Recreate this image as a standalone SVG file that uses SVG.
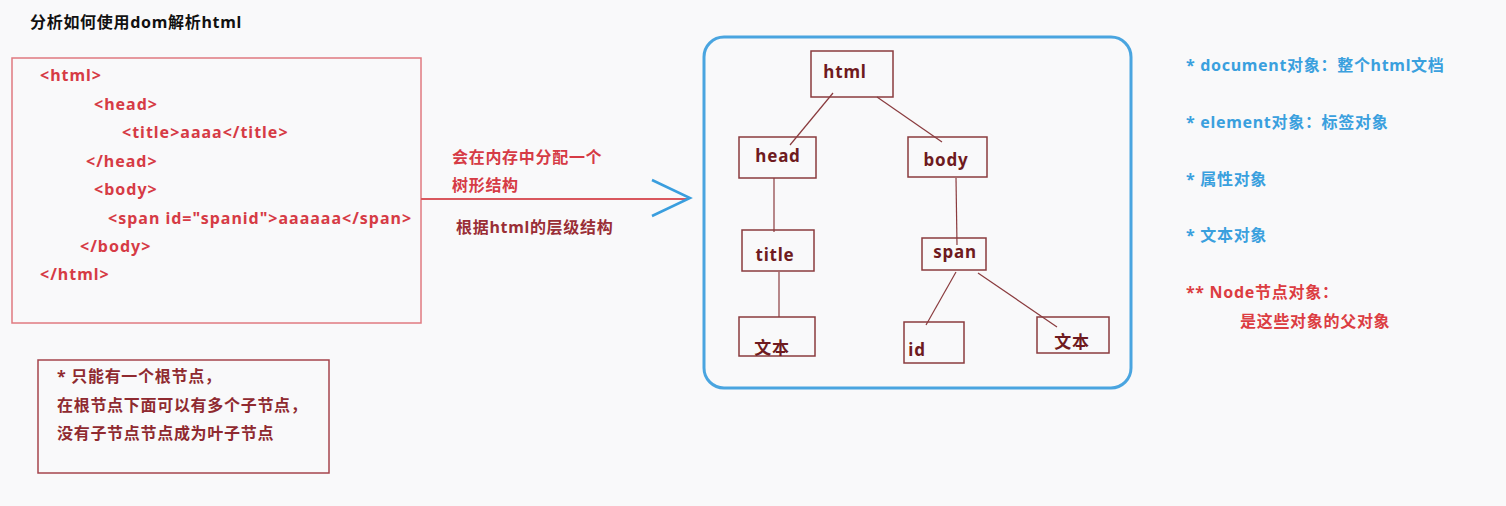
<svg xmlns="http://www.w3.org/2000/svg" width="1506" height="506" viewBox="0 0 1506 506">
<style>
text{font-family:"Noto Sans","Noto Sans CJK SC",sans-serif;font-weight:bold;font-size:16px;letter-spacing:0.7px}
.code{fill:#d63b45;letter-spacing:1px}
.note{fill:#d63b45}
.dark{fill:#8f2a30}
.blue{fill:#3aa0de}
.red{fill:#dc3d42}
.nbox{fill:none;stroke:#8a3b3e;stroke-width:1.5}
.nlabel{fill:#6e1a20;font-size:17px;letter-spacing:0.8px;text-anchor:middle}
.conn{stroke:#8a3b3e;stroke-width:1.2;fill:none}
</style>
<rect width="1506" height="506" fill="#f9f9fa"/>
<text x="30" y="28" style="fill:#111">分析如何使用dom解析html</text>

<g id="source">
<rect x="12" y="58" width="409" height="265" fill="none" stroke="#e07a80" stroke-width="1.5"/>
<text class="code" x="40" y="81">&lt;html&gt;</text>
<text class="code" x="94" y="110">&lt;head&gt;</text>
<text class="code" x="122" y="138">&lt;title&gt;aaaa&lt;/title&gt;</text>
<text class="code" x="86" y="167">&lt;/head&gt;</text>
<text class="code" x="94" y="195">&lt;body&gt;</text>
<text class="code" x="108" y="224">&lt;span id="spanid"&gt;aaaaaa&lt;/span&gt;</text>
<text class="code" x="80" y="252">&lt;/body&gt;</text>
<text class="code" x="40" y="280">&lt;/html&gt;</text>
</g>

<g id="note">
<rect x="38" y="360" width="291" height="113" fill="none" stroke="#a5444c" stroke-width="1.5"/>
<text class="dark" x="57" y="382">* 只能有一个根节点，</text>
<text class="dark" x="57" y="411">在根节点下面可以有多个子节点，</text>
<text class="dark" x="57" y="439">没有子节点节点成为叶子节点</text>
</g>

<g id="arrow">
<line x1="421" y1="199" x2="688" y2="199" stroke="#d9575d" stroke-width="2"/>
<polyline points="652,180 690,198 652,216" fill="none" stroke="#3a9ede" stroke-width="2.5"/>
<text class="note" x="452" y="163">会在内存中分配一个</text>
<text class="note" x="452" y="191">树形结构</text>
<text class="dark" x="456" y="233" style="fill:#9a2e36">根据html的层级结构</text>
</g>

<g id="tree-frame">
<rect x="704" y="37" width="427" height="351" rx="20" fill="none" stroke="#4aa5e0" stroke-width="3"/>
</g>

<g id="connectors">
<line class="conn" x1="833" y1="93" x2="790" y2="145"/>
<line class="conn" x1="877" y1="97" x2="942" y2="142"/>
<line class="conn" x1="774" y1="178" x2="774" y2="232"/>
<line class="conn" x1="956" y1="178" x2="957" y2="245"/>
<line class="conn" x1="779" y1="272" x2="779" y2="317"/>
<line class="conn" x1="956" y1="272" x2="926" y2="325"/>
<line class="conn" x1="978" y1="273" x2="1057" y2="327"/>
</g>

<g id="node-html"><rect class="nbox" x="811" y="51" width="82" height="46"/><text class="nlabel" x="845" y="78">html</text></g>
<g id="node-head"><rect class="nbox" x="739" y="137" width="77" height="41"/><text class="nlabel" x="778" y="162">head</text></g>
<g id="node-body"><rect class="nbox" x="908" y="137" width="79" height="40"/><text class="nlabel" x="946" y="166">body</text></g>
<g id="node-title"><rect class="nbox" x="742" y="230" width="72" height="41"/><text class="nlabel" x="775" y="261">title</text></g>
<g id="node-span"><rect class="nbox" x="922" y="238" width="64" height="32"/><text class="nlabel" x="955" y="258">span</text></g>
<g id="node-text1"><rect class="nbox" x="739" y="317" width="76" height="39"/><text class="nlabel" x="772" y="354">文本</text></g>
<g id="node-id"><rect class="nbox" x="904" y="322" width="60" height="41"/><text class="nlabel" x="917" y="356">id</text></g>
<g id="node-text2"><rect class="nbox" x="1037" y="317" width="72" height="36"/><text class="nlabel" x="1072" y="348">文本</text></g>

<g id="legend">
<text class="blue" x="1186" y="71">* document对象：整个html文档</text>
<text class="blue" x="1186" y="128">* element对象：标签对象</text>
<text class="blue" x="1186" y="185">* 属性对象</text>
<text class="blue" x="1186" y="241">* 文本对象</text>
<text class="red" x="1186" y="298">** Node节点对象：</text>
<text class="red" x="1240" y="327">是这些对象的父对象</text>
</g>
</svg>
